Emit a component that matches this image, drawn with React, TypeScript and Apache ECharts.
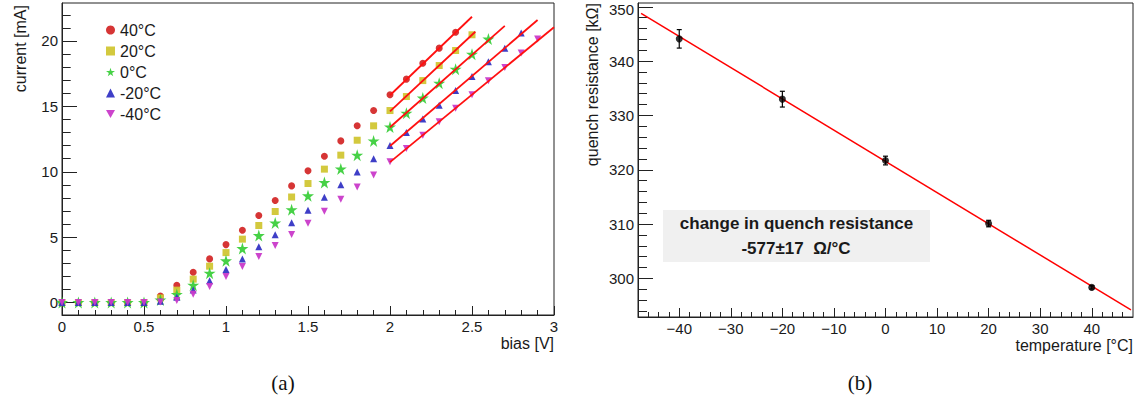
import React, { useEffect, useRef } from "react";
import * as echarts from "echarts";

// ---------- left panel: I-V curves ----------
const bias = [0, 0.1, 0.2, 0.3, 0.4, 0.5, 0.6, 0.7, 0.8, 0.9, 1.0, 1.1, 1.2, 1.3, 1.4, 1.5, 1.6, 1.7, 1.8, 1.9, 2.0, 2.1, 2.2, 2.3, 2.4, 2.5, 2.6, 2.7, 2.8, 2.9];
const cur40 = [0, 0, 0, 0, 0, 0, 0.5, 1.33, 2.32, 3.34, 4.43, 5.53, 6.65, 7.8, 8.92, 10.07, 11.19, 12.36, 13.51, 14.68, 15.88, 17.08, 18.3, 19.45, 20.67];
const cur20 = [0, 0, 0, 0, 0, 0, 0.35, 0.95, 1.79, 2.78, 3.82, 4.85, 5.89, 6.96, 8.07, 9.1, 10.2, 11.27, 12.41, 13.51, 14.68, 15.75, 16.97, 18.12, 19.27, 20.47];
const cur0 = [0, 0, 0, 0, 0, 0, 0.2, 0.62, 1.33, 2.25, 3.19, 4.13, 5.12, 6.09, 7.1, 8.16, 9.18, 10.22, 11.27, 12.36, 13.42, 14.48, 15.63, 16.77, 17.84, 18.99, 20.14];
const curM20 = [0, 0, 0, 0, 0, 0, 0.1, 0.4, 0.97, 1.66, 2.52, 3.34, 4.26, 5.18, 6.1, 7.06, 8.05, 9.0, 9.99, 10.99, 12.0, 13.0, 14.04, 15.09, 16.21, 17.28, 18.4, 19.45, 20.6];
const curM40 = [0, 0, 0, 0, 0, 0, 0.05, 0.15, 0.64, 1.22, 1.99, 2.75, 3.52, 4.36, 5.2, 6.07, 6.99, 7.9, 8.84, 9.76, 10.76, 11.77, 12.8, 13.82, 14.86, 15.88, 16.95, 17.97, 19.07, 20.14];
const seriesNames = ["40°C", "20°C", "0°C", "-20°C", "-40°C"];

// linear fit segments (bias start/end, current start/end)
const fitBias40 = [2.0, 2.5];
const fitCur40 = [15.85, 21.85];
const fitBias20 = [2.0, 2.52];
const fitCur20 = [14.62, 20.7];
const fitBias0 = [2.0, 2.7];
const fitCur0 = [13.4, 21.15];
const fitBiasM20 = [2.0, 2.9];
const fitCurM20 = [11.97, 21.6];
const fitBiasM40 = [2.0, 3.0];
const fitCurM40 = [10.74, 21.05];

const leftYMajor = [0, 5, 10, 15, 20];
const leftYMinor = [1, 2, 3, 4, 6, 7, 8, 9, 11, 12, 13, 14, 16, 17, 18, 19, 21, 22];

// ---------- right panel: quench resistance ----------
const temperature = [-40, -20, 0, 20, 40];
const resistance = [344.1, 333.0, 321.7, 310.1, 298.35];
const resistanceErr = [1.7, 1.45, 0.8, 0.6, 0.3];
const fitTemp = [-47.4, 47.6];
const fitRes = [348.8, 294.2];

const rightXMajor = [-40, -30, -20, -10, 0, 10, 20, 30, 40];
const rightXMinor = [-46, -44, -42, -38, -36, -34, -32, -28, -26, -24, -22, -18, -16, -14, -12, -8, -6, -4, -2, 2, 4, 6, 8, 12, 14, 16, 18, 22, 24, 26, 28, 32, 34, 36, 38, 42, 44, 46];
const rightYMajor = [300, 310, 320, 330, 340, 350];
const rightYLabels = [300, 310, 320, 330, 340];
const rightYTopLabel = "350";
const rightYMinor = [294, 296, 298, 302, 304, 306, 308, 312, 314, 316, 318, 322, 324, 326, 328, 332, 334, 336, 338, 342, 344, 346, 348];

const FONT = "Liberation Sans";
const TXT = "#1a1a1a";
const AX = "#222222";

const STAR = "path://M50,2 L61,37 L98,37 L68,59 L79,95 L50,73 L21,95 L32,59 L2,37 L39,37 Z";
const DOWN_TRI = "path://M0,0 L100,0 L50,87 Z";

const pairs = (xs: number[], ys: number[]) => ys.map((y, i) => [xs[i], y]);

export default function App() {
  const ref = useRef<HTMLDivElement>(null);

  useEffect(() => {
    document.body.style.margin = "0";
    if (!ref.current) return;
    const chart = echarts.init(ref.current, undefined, { renderer: "svg" });

    const markerDefs = [
      { name: seriesNames[0], data: cur40, symbol: "circle", size: 7, color: "#d42a2a" },
      { name: seriesNames[1], data: cur20, symbol: "rect", size: 7, color: "#d1c634" },
      { name: seriesNames[2], data: cur0, symbol: STAR, size: 12, color: "#3ccf3c" },
      { name: seriesNames[3], data: curM20, symbol: "triangle", size: 7, color: "#3434c4" },
      { name: seriesNames[4], data: curM40, symbol: DOWN_TRI, size: 7, color: "#c93ac9" },
    ];
    const fits = [
      [fitBias40, fitCur40],
      [fitBias20, fitCur20],
      [fitBias0, fitCur0],
      [fitBiasM20, fitCurM20],
      [fitBiasM40, fitCurM40],
    ];

    const tickStyle = { color: AX, width: 1 };
    const labelStyle = { fontFamily: FONT, fontSize: 15, color: TXT };
    const nameStyle = { fontFamily: FONT, fontSize: 16, color: TXT };

    const option: any = {
      animation: false,
      backgroundColor: "#ffffff",
      textStyle: { fontFamily: FONT },
      grid: [
        { left: 62, top: 3, width: 492, height: 312, show: true, borderColor: AX, borderWidth: 1, backgroundColor: "transparent", outerBoundsMode: "none" },
        { left: 638, top: 3, width: 495, height: 314, show: true, borderColor: AX, borderWidth: 1, backgroundColor: "transparent", outerBoundsMode: "none" },
      ],
      legend: {
        orient: "vertical",
        left: 101,
        top: 17,
        itemWidth: 9,
        itemHeight: 9,
        itemGap: 5,
        data: seriesNames,
        textStyle: { fontFamily: FONT, fontSize: 16, color: TXT, lineHeight: 16 },
      },
      xAxis: [
        {
          type: "value", gridIndex: 0, position: "bottom", min: 0, max: 3, interval: 0.5,
          axisLine: { show: true, onZero: false, lineStyle: tickStyle },
          axisTick: { show: true, inside: true, length: 9, lineStyle: tickStyle },
          minorTick: { show: true, splitNumber: 5, length: 5, lineStyle: tickStyle },
          splitLine: { show: false },
          axisLabel: { ...labelStyle, margin: 4 },
          name: "bias [V]", nameLocation: "end", nameGap: 0, nameMoveOverlap: false,
          nameTextStyle: { ...nameStyle, align: "right", verticalAlign: "top", padding: [20, 0, 0, 0] },
        },
        {
          type: "value", gridIndex: 1, position: "bottom", min: -48, max: 48,
          axisLine: { show: true, onZero: false, lineStyle: tickStyle },
          axisTick: { show: true, inside: true, length: 9, lineStyle: tickStyle, customValues: rightXMajor },
          splitLine: { show: false },
          axisLabel: {
            ...labelStyle, margin: 4, customValues: rightXMajor,
            formatter: (v: number) => (v < 0 ? "\u2212" + Math.abs(v) : String(v)),
          },
          name: "temperature [°C]", nameLocation: "end", nameGap: 0, nameMoveOverlap: false,
          nameTextStyle: { ...nameStyle, align: "right", verticalAlign: "top", padding: [20, 0, 0, 0] },
        },
        {
          type: "value", gridIndex: 1, position: "bottom", min: -48, max: 48,
          axisLine: { show: false, onZero: false },
          axisTick: { show: true, inside: true, length: 5, lineStyle: tickStyle, customValues: rightXMinor },
          splitLine: { show: false },
          axisLabel: { show: false },
        },
      ],
      yAxis: [
        {
          type: "value", gridIndex: 0, position: "left", min: -0.95, max: 22.9,
          axisLine: { show: true, onZero: false, lineStyle: tickStyle },
          axisTick: { show: true, inside: true, length: 15, lineStyle: tickStyle, customValues: leftYMajor },
          splitLine: { show: false },
          axisLabel: { ...labelStyle, margin: 4, customValues: leftYMajor },
          name: "current [mA]", nameLocation: "end", nameGap: -2, nameRotate: 90, nameMoveOverlap: false,
          nameTextStyle: { ...nameStyle, align: "right", verticalAlign: "bottom", padding: [0, 0, 34, 0] },
        },
        {
          type: "value", gridIndex: 0, position: "left", min: -0.95, max: 22.9,
          axisLine: { show: false, onZero: false },
          axisTick: { show: true, inside: true, length: 8.7, lineStyle: tickStyle, customValues: leftYMinor },
          splitLine: { show: false },
          axisLabel: { show: false },
        },
        {
          type: "value", gridIndex: 1, position: "left", min: 292.9, max: 350.7,
          axisLine: { show: true, onZero: false, lineStyle: tickStyle },
          axisTick: { show: true, inside: true, length: 15, lineStyle: tickStyle, customValues: rightYMajor },
          splitLine: { show: false },
          axisLabel: { ...labelStyle, margin: 4, customValues: rightYLabels },
          name: "quench resistance [kΩ]", nameLocation: "end", nameGap: 0, nameRotate: 90, nameMoveOverlap: false,
          nameTextStyle: { ...nameStyle, align: "right", verticalAlign: "bottom", padding: [0, 0, 38, 0] },
        },
        {
          type: "value", gridIndex: 1, position: "left", min: 292.9, max: 350.7,
          axisLine: { show: false, onZero: false },
          axisTick: { show: true, inside: true, length: 9, lineStyle: tickStyle, customValues: rightYMinor },
          splitLine: { show: false },
          axisLabel: { show: false },
        },
      ],
      series: [
        ...markerDefs.map((m) => ({
          type: "scatter",
          name: m.name,
          xAxisIndex: 0,
          yAxisIndex: 0,
          symbol: m.symbol,
          symbolSize: m.size,
          itemStyle: { color: m.color, opacity: 0.95 },
          data: pairs(bias, m.data),
          z: 3,
        })),
        ...fits.map((f, i) => ({
          type: "line",
          name: "fit" + i,
          xAxisIndex: 0,
          yAxisIndex: 0,
          showSymbol: false,
          symbol: "none",
          lineStyle: { color: "#ff1010", width: 1.8 },
          data: pairs(f[0], f[1]),
          z: 4,
          silent: true,
        })),
        {
          type: "line",
          name: "resistance fit",
          xAxisIndex: 1,
          yAxisIndex: 2,
          showSymbol: false,
          symbol: "none",
          lineStyle: { color: "#ff0000", width: 1.5 },
          data: pairs(fitTemp, fitRes),
          z: 3,
          silent: true,
        },
        {
          type: "custom",
          name: "error bars",
          xAxisIndex: 1,
          yAxisIndex: 2,
          data: temperature.map((t, i) => [t, resistance[i], resistanceErr[i]]),
          encode: { x: 0, y: 1 },
          renderItem: (params: any, api: any) => {
            const x = api.value(0);
            const y = api.value(1);
            const e = api.value(2);
            const lo = api.coord([x, y - e]);
            const hi = api.coord([x, y + e]);
            const st = { stroke: "#000", lineWidth: 1.2 };
            return {
              type: "group",
              children: [
                { type: "line", shape: { x1: lo[0], y1: lo[1], x2: hi[0], y2: hi[1] }, style: st },
                { type: "line", shape: { x1: lo[0] - 2.5, y1: lo[1], x2: lo[0] + 2.5, y2: lo[1] }, style: st },
                { type: "line", shape: { x1: hi[0] - 2.5, y1: hi[1], x2: hi[0] + 2.5, y2: hi[1] }, style: st },
              ],
            };
          },
          z: 4,
        },
        {
          type: "scatter",
          name: "resistance",
          xAxisIndex: 1,
          yAxisIndex: 2,
          symbol: "circle",
          symbolSize: 7,
          itemStyle: { color: "#000" },
          data: pairs(temperature, resistance),
          z: 5,
        },
      ],
      graphic: [
        {
          type: "text", x: 634, y: 9.5, z: 11,
          style: { text: rightYTopLabel, font: `15px "${FONT}"`, fill: TXT, align: "right", verticalAlign: "middle" },
        },
        { type: "rect", shape: { x: 663, y: 210, width: 267, height: 52 }, style: { fill: "#f0f0f0" }, z: 10 },
        {
          type: "text", x: 796.5, y: 223.5, z: 11,
          style: { text: "change in quench resistance", font: `bold 17px "${FONT}"`, fill: TXT, align: "center", verticalAlign: "middle" },
        },
        {
          type: "text", x: 796, y: 248, z: 11,
          style: { text: "-577±17  Ω/°C", font: `bold 17px "${FONT}"`, fill: TXT, align: "center", verticalAlign: "middle" },
        },
        {
          type: "text", x: 283, y: 383, z: 11,
          style: { text: "(a)", font: `21px "Liberation Serif"`, fill: "#111", align: "center", verticalAlign: "middle" },
        },
        {
          type: "text", x: 860, y: 383, z: 11,
          style: { text: "(b)", font: `21px "Liberation Serif"`, fill: "#111", align: "center", verticalAlign: "middle" },
        },
      ],
    };

    chart.setOption(option);
    return () => chart.dispose();
  }, []);

  return <div ref={ref} style={{ width: 1147, height: 409 }} />;
}
